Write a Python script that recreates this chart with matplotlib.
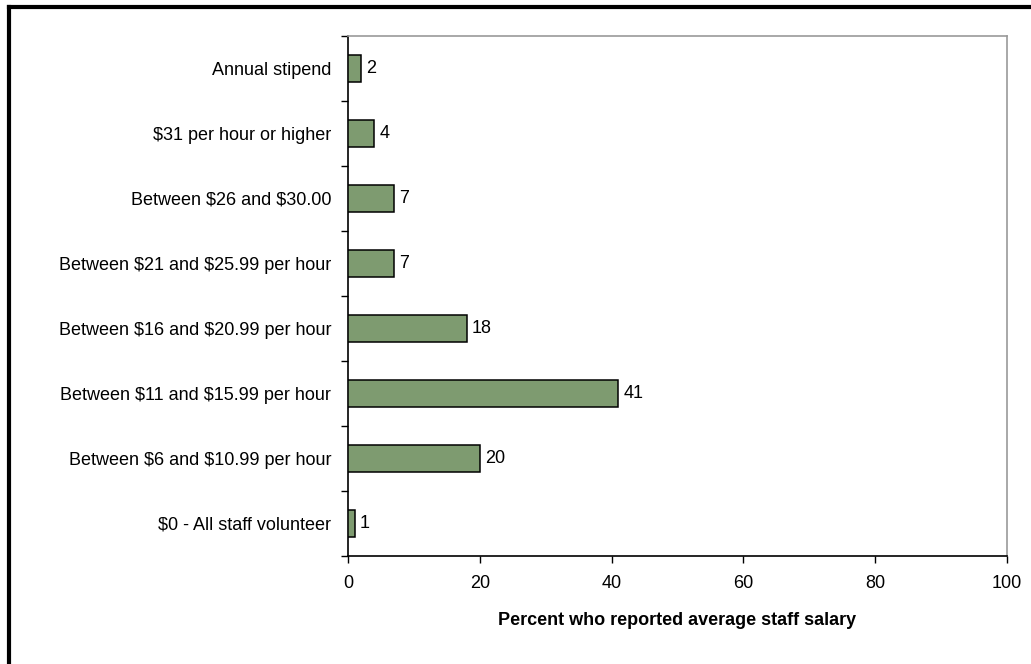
import matplotlib.pyplot as plt
from matplotlib.lines import Line2D

# categories bottom to top
categories = [
    "$0 - All staff volunteer",
    "Between $6 and $10.99 per hour",
    "Between $11 and $15.99 per hour",
    "Between $16 and $20.99 per hour",
    "Between $21 and $25.99 per hour",
    "Between $26 and $30.00",
    "$31 per hour or higher",
    "Annual stipend",
]
values = [1, 20, 41, 18, 7, 7, 4, 2]
xticks = [0, 20, 40, 60, 80, 100]

BAR = '#7E9B70'
plt.rcParams['font.family'] = ['Liberation Sans', 'DejaVu Sans']
plt.rcParams['text.parse_math'] = False

fig = plt.figure(figsize=(10.31, 6.64), dpi=100)
ax = fig.add_axes([0.3375, 0.1627, 0.9767 - 0.3375, 0.9458 - 0.1627])

pos = list(range(len(categories)))
ax.barh(pos, values, height=0.42, color=BAR, edgecolor='black', linewidth=1.1, zorder=3)
for p, v in zip(pos, values):
    ax.text(v + 0.8, p, str(v), va='center', ha='left', fontsize=13)

ax.set_xlim(0, 100)
ax.set_ylim(-0.5, len(categories) - 0.5)
ax.set_xticks(xticks)
ax.set_xticklabels([str(t) for t in xticks], fontsize=13)
ax.tick_params(axis='x', length=5, width=1, pad=9)

# category labels without ticks, boundary ticks on the left
ax.set_yticks(pos)
ax.set_yticklabels(categories, fontsize=13)
ax.tick_params(axis='y', which='major', length=0, pad=12)
ax.set_yticks([p - 0.5 for p in pos] + [len(pos) - 0.5], minor=True)
ax.tick_params(axis='y', which='minor', length=5, width=1, direction='out')

ax.spines['left'].set_color('black')
ax.spines['bottom'].set_color('black')
ax.spines['top'].set_color('#999999')
ax.spines['right'].set_color('#999999')
for s in ax.spines.values():
    s.set_linewidth(1.2)

ax.set_xlabel('Percent who reported average staff salary', fontsize=13,
              fontweight='bold', labelpad=14)

# outer frame (left and top edges visible)
fig.add_artist(Line2D([9 / 1031, 9 / 1031], [0, 1 - 7 / 664], color='black', lw=3,
                      transform=fig.transFigure, solid_capstyle='projecting'))
fig.add_artist(Line2D([9 / 1031, 1], [1 - 7 / 664, 1 - 7 / 664], color='black', lw=3,
                      transform=fig.transFigure, solid_capstyle='projecting'))

fig.savefig('out.png', dpi=100)
